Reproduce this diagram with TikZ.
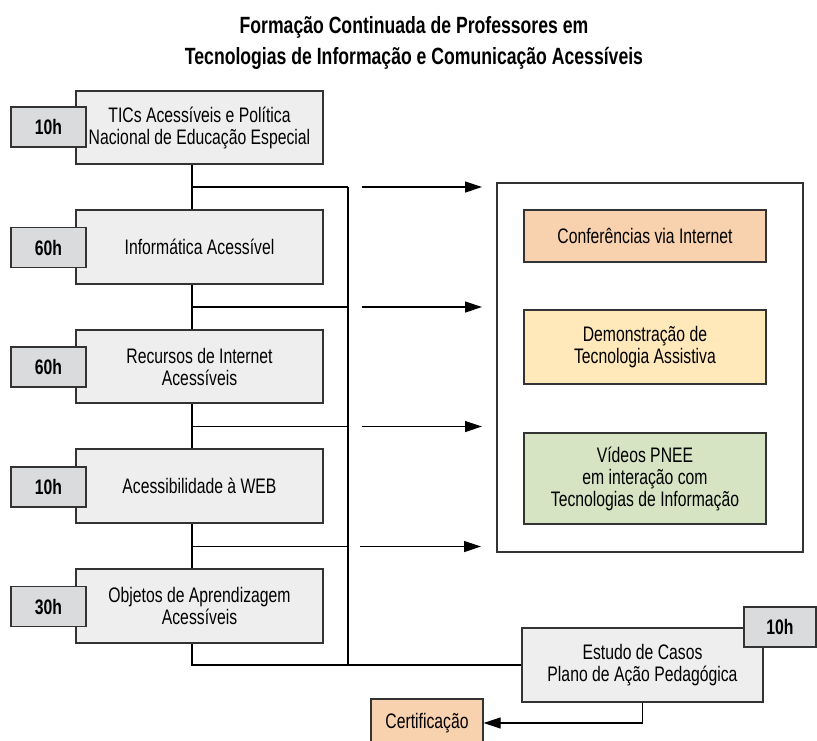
\documentclass[tikz,border=0pt]{standalone}
\usepackage{fontspec}
\setmainfont{Liberation Sans}[FakeStretch=0.75]
\usetikzlibrary{arrows.meta}
\definecolor{bordc}{HTML}{333333}
\definecolor{boxg}{HTML}{EEEEEE}
\definecolor{tagg}{HTML}{DADBDC}
\definecolor{peach}{HTML}{F8D1AF}
\definecolor{yell}{HTML}{FFE8B9}
\definecolor{grn}{HTML}{D6E4C3}
\tikzset{
  base/.style={draw=bordc, line width=1.2pt, inner sep=0pt, align=center,
    font=\fontsize{21}{22}\selectfont},
  course/.style={base, fill=boxg, minimum width=247pt, minimum height=74pt},
  tagbox/.style={base, fill=tagg, minimum width=75pt, minimum height=40pt,
    font=\fontsize{21}{22}\selectfont\bfseries},
  actbox/.style={base, minimum width=242pt},
  conn/.style={draw=black, line width=1.2pt},
  arr/.style={conn, -{Triangle[length=17pt,width=11pt]}},
}
\begin{document}
\begin{tikzpicture}[x=1pt,y=-1pt]
\clip (0,0) rectangle (817,740);
\useasboundingbox (0,0) rectangle (817,740);
\node[font=\fontsize{23.5}{31.5}\selectfont\bfseries, align=center] (title) at (414,43)
  {Formação Continuada de Professores em\\Tecnologias de Informação e Comunicação Acessíveis};
% courses
\node[course, minimum height=73pt] (b1) at (199.5,127.5) {TICs Acessíveis e Política\\Nacional de Educação Especial};
\node[course] (b2) at (199.5,247) {Informática Acessível};
\node[course, minimum height=73pt] (b3) at (199.5,366.5) {Recursos de Internet\\Acessíveis};
\node[course] (b4) at (199.5,486) {Acessibilidade à WEB};
\node[course] (b5) at (199.5,606) {Objetos de Aprendizagem\\Acessíveis};
\node[tagbox] (t1) at (48.5,127) {10h};
\node[tagbox] (t2) at (48.5,247.5) {60h};
\node[tagbox] (t3) at (48.5,367) {60h};
\node[tagbox] (t4) at (48.5,487) {10h};
\node[tagbox] (t5) at (48.5,606.5) {30h};
% activities
\node[base, minimum width=306pt, minimum height=369pt] (act) at (650,367.5) {};
\node[actbox, fill=peach, minimum height=52pt] (conf) at (645,236) {Conferências via Internet};
\node[actbox, fill=yell, minimum height=74pt] (demo) at (645,347) {Demonstração de\\Tecnologia Assistiva};
\node[actbox, fill=grn, minimum height=91pt] (vid) at (645,478.5) {Vídeos PNEE\\em interação com\\Tecnologias de Informação};
% final
\node[course, minimum width=241pt] (est) at (642.5,665) {Estudo de Casos\\Plano de Ação Pedagógica};
\node[tagbox, minimum width=72pt] (t6) at (780,627) {10h};
\node[base, fill=peach, minimum width=112pt, minimum height=48pt] (cert) at (427,723) {Certificação};
% spine and bus
\coordinate (s) at (192,0);
\coordinate (bus) at (348,0);
\coordinate (j1) at (192,187);
\coordinate (j2) at (192,307);
\coordinate (j3) at (192,426.5);
\coordinate (j4) at (192,546.5);
\draw[conn] (b1.south -| s) -- (b2.north -| s);
\draw[conn] (b2.south -| s) -- (b3.north -| s);
\draw[conn] (b3.south -| s) -- (b4.north -| s);
\draw[conn] (b4.south -| s) -- (b5.north -| s);
\draw[conn] (b5.south -| s) |- (est.west);
\draw[conn] (j1) -- (j1 -| bus);
\draw[conn] (j2) -- (j2 -| bus);
\draw[conn] (j3) -- (j3 -| bus);
\draw[conn] (j4) -- (j4 -| bus);
\draw[conn] (j1 -| bus) -- (est.west -| bus);
% arrows
\coordinate (a1s) at (362,187); \coordinate (a1e) at (482,187);
\coordinate (a2s) at (362,307); \coordinate (a2e) at (482,307);
\coordinate (a3s) at (362,426.5); \coordinate (a3e) at (482,426.5);
\coordinate (a4s) at (360,546.5); \coordinate (a4e) at (481,546.5);
\draw[arr] (a1s) -- (a1e);
\draw[arr] (a2s) -- (a2e);
\draw[arr] (a3s) -- (a3e);
\draw[arr] (a4s) -- (a4e);
\draw[arr] (est.south) |- (cert.east);
\end{tikzpicture}
\end{document}
